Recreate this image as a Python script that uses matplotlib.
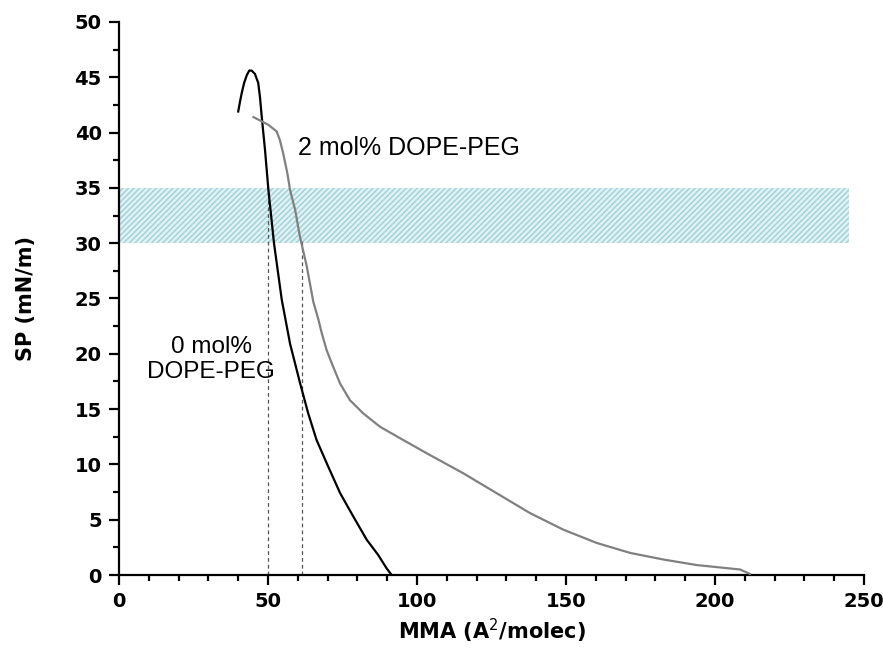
import numpy as np
import matplotlib
matplotlib.use("Agg")
import matplotlib.pyplot as plt
from matplotlib.patches import Rectangle
from matplotlib.ticker import MultipleLocator

# isotherm, 0 mol% DOPE-PEG
mma_0 = [40.0, 40.6, 41.2, 42.0, 42.9, 43.7, 44.5, 45.6, 46.7, 47.3, 47.9,
         49.0, 50.1, 52.0, 54.6, 57.4, 60.7, 63.5, 66.3, 70.2, 74.2, 78.6,
         83.1, 87.0, 89.8, 91.5]
sp_0 = [41.9, 42.8, 43.6, 44.5, 45.2, 45.6, 45.6, 45.3, 44.5, 43.2, 41.4,
        38.4, 34.9, 30.0, 24.9, 20.9, 17.4, 14.6, 12.2, 9.8, 7.4, 5.3,
        3.2, 1.8, 0.6, 0.0]

# isotherm, 2 mol% DOPE-PEG
mma_2 = [45.1, 50.1, 52.9, 54.0, 55.1, 56.5, 57.4, 59.1, 60.7, 63.0, 65.2,
         66.9, 68.0, 69.7, 71.9, 74.2, 77.5, 82.0, 87.6, 95.4, 103.3,
         115.5, 126.7, 137.9, 149.1, 160.3, 171.5, 182.7, 193.9, 208.4,
         211.7]
sp_2 = [41.4, 40.7, 40.1, 39.3, 38.1, 36.3, 34.8, 33.0, 30.6, 27.9, 24.7,
        23.1, 21.9, 20.3, 18.8, 17.3, 15.8, 14.6, 13.4, 12.2, 11.0,
        9.2, 7.4, 5.6, 4.1, 2.9, 2.0, 1.4, 0.9, 0.5, 0.1]

# bilayer-equivalent pressure range
band_sp = [30, 35]
band_mma = [0, 245]

cut_mma = [50, 61.3]
cut_sp = [35, 30.5]

fig = plt.figure(figsize=(8.83, 6.64), dpi=100)
ax = fig.add_axes([0.1348, 0.134, 0.8437, 0.833])

ax.add_patch(Rectangle((band_mma[0], band_sp[0]), band_mma[1] - band_mma[0],
                       band_sp[1] - band_sp[0], facecolor='#e0f1f3',
                       edgecolor='#9fd2d8', hatch='//////', linewidth=0,
                       zorder=1))

for x, top in zip(cut_mma, cut_sp):
    ax.plot([x, x], [0, top], color='#555555', linestyle=(0, (3, 2.5)),
            linewidth=0.9, zorder=2)

ax.plot(mma_0, sp_0, color='black', linewidth=1.6, zorder=3)
ax.plot(mma_2, sp_2, color='#808080', linewidth=1.6, zorder=3)

ax.text(60.0, 38.6, '2 mol% DOPE-PEG', fontsize=18,
        family='Liberation Sans', ha='left', va='center')
ax.text(31, 19.5, '0 mol%\nDOPE-PEG', fontsize=17.5,
        family='Liberation Sans', ha='center', va='center',
        multialignment='center')

ax.set_xlim(0, 250)
ax.set_ylim(0, 50)
ax.xaxis.set_major_locator(MultipleLocator(50))
ax.xaxis.set_minor_locator(MultipleLocator(10))
ax.yaxis.set_major_locator(MultipleLocator(5))
ax.yaxis.set_minor_locator(MultipleLocator(2.5))

for side in ['top', 'right']:
    ax.spines[side].set_visible(False)
for side in ['left', 'bottom']:
    ax.spines[side].set_linewidth(1.6)

ax.tick_params(which='major', direction='out', length=7.5, width=1.6,
               labelsize=14, pad=5)
ax.tick_params(which='minor', direction='out', length=4.5, width=1.6)
for lbl in ax.get_xticklabels() + ax.get_yticklabels():
    lbl.set_fontweight('bold')

ax.set_xlabel('MMA (A$^2$/molec)', fontsize=15, fontweight='bold',
              labelpad=4)
ax.set_ylabel('SP (mN/m)', fontsize=15, fontweight='bold', labelpad=28)

fig.savefig('out.png', dpi=100)
